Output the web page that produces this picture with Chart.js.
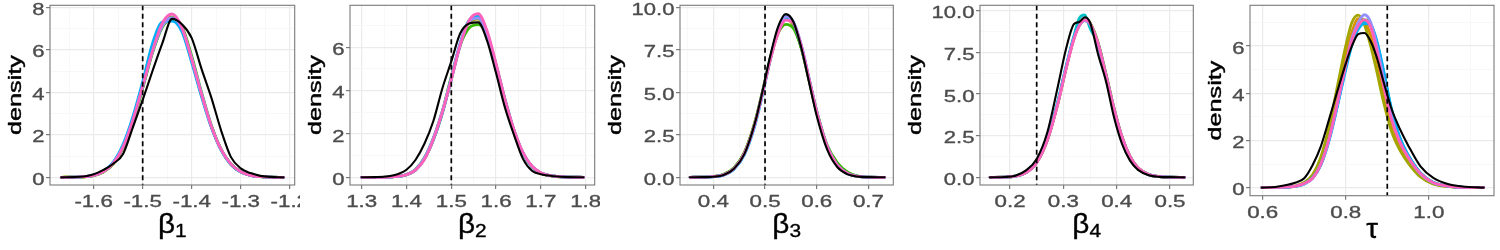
<!DOCTYPE html>
<html>
<head>
<meta charset="utf-8">
<script src="https://cdn.jsdelivr.net/npm/chart.js@4"></script>
<style>
  html, body { margin: 0; padding: 0; background: #fff; }
  #wrap { position: relative; width: 1500px; height: 250px; overflow: hidden; }
  .panel { position: absolute; top: 0; width: 300px; height: 250px; }
</style>
</head>
<body>
<div id="wrap"></div>
<script>
// --- chain colours (drawn bottom -> top), black reference curve on top ---
const chainColors = ['#D89000', '#A3A500', '#39B600', '#00BFC4', '#00B0F6', '#9590FF', '#FF62BC'];

// --- beta_1 ---
const b1X = [-1.666, -1.64, -1.62, -1.60, -1.58, -1.56, -1.54, -1.52, -1.50, -1.48, -1.46, -1.44, -1.42, -1.40, -1.38, -1.36, -1.34, -1.32, -1.30, -1.28, -1.26, -1.24, -1.213];
const b1Black = [0, 0.01, 0.04, 0.14, 0.35, 0.64, 1.1, 2.35, 3.64, 5.0, 6.3, 7.45, 7.2, 6.55, 5.1, 3.75, 2.2, 0.95, 0.42, 0.2, 0.07, 0.02, 0];
const b1Chains = [
  [0, 0.01, 0.02, 0.08, 0.26, 0.65, 1.42, 2.65, 4.25, 5.9, 7.1, 7.4, 6.95, 5.55, 3.9, 2.4, 1.3, 0.62, 0.26, 0.09, 0.03, 0.01, 0],
  [0, 0.01, 0.02, 0.08, 0.25, 0.63, 1.38, 2.6, 4.2, 5.9, 7.15, 7.55, 7.0, 5.6, 3.9, 2.4, 1.3, 0.6, 0.25, 0.09, 0.03, 0.01, 0],
  [0, 0.01, 0.02, 0.08, 0.26, 0.64, 1.4, 2.62, 4.2, 5.85, 7.05, 7.45, 7.1, 5.7, 4.0, 2.45, 1.32, 0.63, 0.27, 0.1, 0.03, 0.01, 0],
  [0, 0.01, 0.03, 0.09, 0.27, 0.66, 1.44, 2.7, 4.3, 6.0, 7.2, 7.5, 6.95, 5.5, 3.85, 2.38, 1.28, 0.6, 0.25, 0.09, 0.03, 0.01, 0],
  [0, 0.01, 0.03, 0.1, 0.3, 0.72, 1.55, 2.85, 4.5, 6.3, 7.3, 7.35, 6.85, 5.4, 3.8, 2.35, 1.28, 0.6, 0.25, 0.09, 0.03, 0.01, 0],
  [0, 0.01, 0.03, 0.09, 0.28, 0.68, 1.45, 2.7, 4.25, 5.9, 7.1, 7.5, 7.0, 5.6, 3.95, 2.42, 1.3, 0.62, 0.26, 0.09, 0.03, 0.01, 0],
  [0, 0.01, 0.03, 0.09, 0.27, 0.66, 1.42, 2.68, 4.3, 5.95, 7.25, 7.68, 7.05, 5.55, 3.9, 2.4, 1.3, 0.62, 0.26, 0.09, 0.03, 0.01, 0]
];
const b1XTicks = [-1.6, -1.5, -1.4, -1.3, -1.2];
const b1XLabels = ['-1.6', '-1.5', '-1.4', '-1.3', '-1.2'];
const b1XMinor = [-1.65, -1.55, -1.45, -1.35, -1.25];
const b1YTicks = [0, 2, 4, 6, 8];
const b1YLabels = ['0', '2', '4', '6', '8'];
const b1YMinor = [1, 3, 5, 7];

// --- beta_2 ---
const b2X = [1.30, 1.33, 1.36, 1.38, 1.40, 1.42, 1.44, 1.46, 1.48, 1.50, 1.52, 1.54, 1.56, 1.58, 1.60, 1.62, 1.64, 1.66, 1.68, 1.70, 1.73, 1.76, 1.795];
const b2Black = [0, 0.01, 0.05, 0.14, 0.35, 0.8, 1.55, 2.6, 4.1, 5.35, 6.65, 7.1, 7.15, 6.3, 4.8, 3.2, 1.95, 0.85, 0.3, 0.14, 0.05, 0.01, 0];
const b2Chains = [
  [0, 0, 0.01, 0.04, 0.12, 0.33, 0.85, 1.74, 2.98, 4.55, 6.15, 7.2, 7.35, 6.55, 5.1, 3.55, 2.12, 1.1, 0.49, 0.19, 0.05, 0.01, 0],
  [0, 0, 0.01, 0.04, 0.12, 0.34, 0.88, 1.78, 3.0, 4.6, 6.15, 7.15, 7.3, 6.5, 5.1, 3.5, 2.12, 1.1, 0.48, 0.19, 0.04, 0.01, 0],
  [0, 0, 0.01, 0.04, 0.13, 0.36, 0.9, 1.8, 3.05, 4.65, 6.1, 6.9, 7.05, 6.55, 5.15, 3.55, 2.15, 1.12, 0.5, 0.2, 0.05, 0.01, 0],
  [0, 0, 0.01, 0.04, 0.12, 0.33, 0.84, 1.72, 2.95, 4.5, 6.1, 7.25, 7.45, 6.65, 5.2, 3.6, 2.18, 1.13, 0.5, 0.2, 0.05, 0.01, 0],
  [0, 0, 0.01, 0.04, 0.12, 0.34, 0.86, 1.76, 3.0, 4.55, 6.2, 7.25, 7.4, 6.6, 5.15, 3.55, 2.15, 1.12, 0.5, 0.2, 0.05, 0.01, 0],
  [0, 0, 0.01, 0.04, 0.13, 0.35, 0.9, 1.82, 3.05, 4.6, 6.2, 7.2, 7.35, 6.6, 5.1, 3.5, 2.15, 1.13, 0.5, 0.2, 0.05, 0.01, 0],
  [0, 0, 0.01, 0.04, 0.12, 0.33, 0.82, 1.75, 3.0, 4.5, 6.1, 7.25, 7.55, 6.75, 5.25, 3.6, 2.2, 1.15, 0.52, 0.21, 0.05, 0.01, 0]
];
const b2XTicks = [1.3, 1.4, 1.5, 1.6, 1.7, 1.8];
const b2XLabels = ['1.3', '1.4', '1.5', '1.6', '1.7', '1.8'];
const b2XMinor = [1.35, 1.45, 1.55, 1.65, 1.75];
const b2YTicks = [0, 2, 4, 6];
const b2YLabels = ['0', '2', '4', '6'];
const b2YMinor = [1, 3, 5, 7];

// --- beta_3 ---
const b3X = [0.355, 0.38, 0.40, 0.42, 0.44, 0.46, 0.48, 0.495, 0.51, 0.525, 0.54, 0.555, 0.57, 0.585, 0.60, 0.62, 0.64, 0.66, 0.68, 0.70, 0.731];
const b3Black = [0, 0.01, 0.03, 0.13, 0.5, 1.36, 3.15, 5.05, 7.13, 8.83, 9.6, 9.14, 7.64, 5.61, 3.61, 1.64, 0.59, 0.17, 0.04, 0.01, 0];
const b3Chains = [
  [0, 0.01, 0.04, 0.15, 0.52, 1.42, 3.15, 4.95, 6.9, 8.5, 9.3, 8.95, 7.65, 5.75, 3.85, 1.85, 0.72, 0.22, 0.05, 0.01, 0],
  [0, 0.01, 0.04, 0.16, 0.55, 1.45, 3.2, 5.0, 6.95, 8.55, 9.3, 8.95, 7.6, 5.7, 3.8, 1.85, 0.75, 0.24, 0.06, 0.01, 0],
  [0, 0.01, 0.05, 0.17, 0.56, 1.45, 3.2, 5.05, 7.0, 8.45, 9.0, 8.75, 7.6, 5.8, 3.9, 1.9, 0.85, 0.3, 0.07, 0.01, 0],
  [0, 0.01, 0.04, 0.14, 0.5, 1.38, 3.1, 4.95, 6.95, 8.6, 9.4, 9.05, 7.7, 5.75, 3.8, 1.82, 0.7, 0.22, 0.05, 0.01, 0],
  [0, 0.01, 0.03, 0.13, 0.47, 1.32, 3.0, 4.85, 6.9, 8.6, 9.45, 9.1, 7.75, 5.8, 3.85, 1.83, 0.7, 0.21, 0.05, 0.01, 0],
  [0, 0.01, 0.04, 0.14, 0.5, 1.38, 3.1, 4.95, 6.95, 8.6, 9.45, 9.15, 7.8, 5.85, 3.85, 1.82, 0.7, 0.21, 0.05, 0.01, 0],
  [0, 0.01, 0.04, 0.15, 0.52, 1.4, 3.12, 4.95, 6.9, 8.45, 9.25, 9.05, 7.75, 5.8, 3.85, 1.84, 0.71, 0.22, 0.05, 0.01, 0]
];
const b3XTicks = [0.4, 0.5, 0.6, 0.7];
const b3XLabels = ['0.4', '0.5', '0.6', '0.7'];
const b3XMinor = [0.35, 0.45, 0.55, 0.65];
const b3YTicks = [0, 2.5, 5, 7.5, 10];
const b3YLabels = ['0.0', '2.5', '5.0', '7.5', '10.0'];
const b3YMinor = [1.25, 3.75, 6.25, 8.75];

// --- beta_4 ---
const b4X = [0.1625, 0.19, 0.21, 0.23, 0.25, 0.27, 0.29, 0.305, 0.32, 0.33, 0.34, 0.35, 0.365, 0.38, 0.395, 0.41, 0.425, 0.44, 0.46, 0.48, 0.50, 0.527];
const b4Black = [0, 0.02, 0.1, 0.42, 1.1, 2.7, 5.5, 7.7, 9.2, 9.32, 9.6, 9.3, 7.4, 5.75, 3.6, 2.0, 1.0, 0.45, 0.13, 0.03, 0.01, 0];
const b4Chains = [
  [0, 0.01, 0.07, 0.28, 0.88, 2.22, 4.45, 6.5, 8.35, 9.15, 9.45, 9.25, 8.05, 6.15, 4.12, 2.42, 1.25, 0.57, 0.17, 0.04, 0.01, 0],
  [0, 0.01, 0.07, 0.28, 0.89, 2.24, 4.5, 6.55, 8.4, 9.2, 9.5, 9.25, 8.0, 6.1, 4.1, 2.42, 1.26, 0.58, 0.17, 0.04, 0.01, 0],
  [0, 0.01, 0.07, 0.29, 0.9, 2.26, 4.5, 6.55, 8.35, 9.1, 9.4, 9.25, 8.1, 6.2, 4.15, 2.42, 1.25, 0.56, 0.16, 0.04, 0.01, 0],
  [0, 0.01, 0.08, 0.31, 0.95, 2.35, 4.62, 6.65, 8.5, 9.55, 9.75, 8.95, 8.0, 6.1, 4.05, 2.38, 1.23, 0.56, 0.16, 0.04, 0.01, 0],
  [0, 0.01, 0.07, 0.29, 0.9, 2.28, 4.55, 6.6, 8.4, 9.15, 9.45, 9.2, 7.95, 6.05, 4.05, 2.38, 1.23, 0.55, 0.16, 0.04, 0.01, 0],
  [0, 0.01, 0.07, 0.28, 0.89, 2.25, 4.5, 6.55, 8.35, 9.1, 9.4, 9.2, 8.0, 6.1, 4.1, 2.4, 1.24, 0.56, 0.16, 0.04, 0.01, 0],
  [0, 0.01, 0.07, 0.28, 0.88, 2.22, 4.45, 6.5, 8.3, 9.1, 9.45, 9.25, 8.05, 6.15, 4.12, 2.42, 1.26, 0.58, 0.17, 0.04, 0.01, 0]
];
const b4XTicks = [0.2, 0.3, 0.4, 0.5];
const b4XLabels = ['0.2', '0.3', '0.4', '0.5'];
const b4XMinor = [0.15, 0.25, 0.35, 0.45];
const b4YTicks = [0, 2.5, 5, 7.5, 10];
const b4YLabels = ['0.0', '2.5', '5.0', '7.5', '10.0'];
const b4YMinor = [1.25, 3.75, 6.25, 8.75];

// --- tau ---
const tauX = [0.598, 0.63, 0.66, 0.68, 0.70, 0.72, 0.74, 0.76, 0.78, 0.80, 0.815, 0.83, 0.845, 0.86, 0.875, 0.89, 0.91, 0.93, 0.95, 0.98, 1.01, 1.05, 1.09, 1.132];
const tauBlack = [0, 0.03, 0.12, 0.22, 0.4, 0.95, 1.75, 2.9, 4.1, 5.25, 6.0, 6.5, 6.55, 6.2, 5.5, 4.55, 3.35, 2.5, 1.8, 0.9, 0.42, 0.13, 0.04, 0];
const tauChains = [
  [0, 0.01, 0.03, 0.07, 0.2, 0.5, 1.2, 2.45, 4.0, 5.6, 6.6, 7.15, 7.05, 6.45, 5.4, 4.1, 2.65, 1.75, 1.15, 0.5, 0.18, 0.05, 0.01, 0],
  [0, 0.01, 0.03, 0.08, 0.22, 0.55, 1.3, 2.6, 4.3, 6.0, 7.0, 7.3, 6.9, 6.0, 4.9, 3.7, 2.4, 1.6, 1.05, 0.45, 0.16, 0.04, 0.01, 0],
  [0, 0.01, 0.02, 0.06, 0.17, 0.42, 1.0, 2.1, 3.55, 5.15, 6.2, 6.85, 7.1, 6.9, 6.1, 4.9, 3.2, 2.05, 1.35, 0.6, 0.22, 0.06, 0.01, 0],
  [0, 0.01, 0.02, 0.06, 0.17, 0.42, 1.0, 2.05, 3.5, 5.1, 6.15, 6.8, 7.0, 6.85, 6.15, 5.0, 3.3, 2.1, 1.38, 0.62, 0.23, 0.06, 0.01, 0],
  [0, 0.01, 0.02, 0.06, 0.16, 0.4, 0.95, 2.0, 3.45, 5.0, 6.05, 6.7, 6.95, 6.9, 6.2, 5.05, 3.35, 2.15, 1.4, 0.62, 0.23, 0.06, 0.01, 0],
  [0, 0.01, 0.02, 0.06, 0.17, 0.4, 0.98, 2.05, 3.55, 5.2, 6.35, 7.0, 7.32, 7.0, 6.0, 4.7, 3.0, 1.95, 1.3, 0.58, 0.21, 0.06, 0.01, 0],
  [0, 0.01, 0.03, 0.07, 0.18, 0.4, 1.0, 2.1, 3.6, 5.2, 6.25, 6.85, 7.1, 6.8, 5.8, 4.4, 2.9, 1.95, 1.3, 0.6, 0.22, 0.06, 0.01, 0]
];
const tauXTicks = [0.6, 0.8, 1.0];
const tauXLabels = ['0.6', '0.8', '1.0'];
const tauXMinor = [0.7, 0.9, 1.1];
const tauYTicks = [0, 2, 4, 6];
const tauYLabels = ['0', '2', '4', '6'];
const tauYMinor = [1, 3, 5, 7];

// true parameter values (dashed lines)
const trueValues = [-1.5, 1.5, 0.5, 0.25, 0.9];
const axisSymbols = ['β', 'β', 'β', 'β', 'τ'];
const axisSubscripts = ['1', '2', '3', '4', ''];

// --- panel geometry (plot box inside each 300px panel) ---
const panelBoxes = [
    { L: 50, R: 294.7, T: 5.3, B: 185, xMin: -1.689, xMax: -1.190, yMin: -0.36, yMax: 8.09 },
    { L: 50, R: 294.7, T: 5.3, B: 185, xMin: 1.2739, xMax: 1.8201, yMin: -0.355, yMax: 7.94 },
    { L: 80, R: 293.3, T: 5.3, B: 185, xMin: 0.3356, xMax: 0.748, yMin: -0.453, yMax: 10.12 },
    { L: 80, R: 293.3, T: 5.3, B: 185, xMin: 0.1437, xMax: 0.5437, yMin: -0.46, yMax: 10.32 },
    { L: 50, R: 294, T: 5.3, B: 195.7, xMin: 0.5694, xMax: 1.157, yMin: -0.34, yMax: 7.72 }
];

const panels = [
    { xs: b1X, black: b1Black, chains: b1Chains, xT: b1XTicks, xL: b1XLabels, xM: b1XMinor, yT: b1YTicks, yL: b1YLabels, yM: b1YMinor },
    { xs: b2X, black: b2Black, chains: b2Chains, xT: b2XTicks, xL: b2XLabels, xM: b2XMinor, yT: b2YTicks, yL: b2YLabels, yM: b2YMinor },
    { xs: b3X, black: b3Black, chains: b3Chains, xT: b3XTicks, xL: b3XLabels, xM: b3XMinor, yT: b3YTicks, yL: b3YLabels, yM: b3YMinor },
    { xs: b4X, black: b4Black, chains: b4Chains, xT: b4XTicks, xL: b4XLabels, xM: b4XMinor, yT: b4YTicks, yL: b4YLabels, yM: b4YMinor },
    { xs: tauX, black: tauBlack, chains: tauChains, xT: tauXTicks, xL: tauXLabels, xM: tauXMinor, yT: tauYTicks, yL: tauYLabels, yM: tauYMinor }
];

const FONT = '"Liberation Sans", Arial, Helvetica, sans-serif';
const MAJOR_GRID = '#EBEBEB';
const MINOR_GRID = '#F5F5F5';
const FRAME = '#7a7a7a';
const TICK_TEXT = '#4D4D4D';

// canvas text, widened along its reading direction like the reference
function drawText(ctx, str, x, y, size, align, sx, rotate, color, weight) {
    ctx.save();
    ctx.translate(x, y);
    if (rotate) ctx.rotate(-Math.PI / 2);
    ctx.scale(sx, 1);
    ctx.font = size + 'px ' + FONT;
    ctx.fillStyle = color;
    ctx.strokeStyle = color;
    ctx.lineWidth = weight || 0;
    ctx.lineJoin = 'round';
    ctx.textAlign = align;
    ctx.textBaseline = 'alphabetic';
    ctx.fillText(str, 0, 0);
    if (weight) ctx.strokeText(str, 0, 0);
    ctx.restore();
}

function panelPlugin(i) {
    const p = panels[i];
    const box = panelBoxes[i];
    return {
        id: 'panelDecor' + i,
        afterDatasetsDraw(chart) {
            const { ctx, chartArea, scales } = chart;
            const px = scales.x.getPixelForValue(trueValues[i]);
            ctx.save();
            ctx.strokeStyle = '#000';
            ctx.lineWidth = 1.7;
            ctx.setLineDash([5, 3.5]);
            ctx.beginPath();
            ctx.moveTo(px, chartArea.top);
            ctx.lineTo(px, chartArea.bottom);
            ctx.stroke();
            ctx.restore();
        },
        afterDraw(chart) {
            const { ctx, chartArea, scales } = chart;
            // panel frame
            ctx.save();
            ctx.strokeStyle = FRAME;
            ctx.lineWidth = 1.1;
            ctx.strokeRect(chartArea.left, chartArea.top, chartArea.right - chartArea.left, chartArea.bottom - chartArea.top);
            ctx.restore();

            // tick labels
            p.xT.forEach((v, k) => {
                drawText(ctx, p.xL[k], scales.x.getPixelForValue(v), box.B + 22.2, 16.2, 'center', 1.38, false, TICK_TEXT, 0.35);
            });
            p.yT.forEach((v, k) => {
                drawText(ctx, p.yL[k], box.L - 5.6, scales.y.getPixelForValue(v) + 7.6, 16.2, 'right', 1.36, false, TICK_TEXT, 0.35);
            });

            // axis titles
            drawText(ctx, 'density', 21.2, (chartArea.top + chartArea.bottom) / 2, 18, 'center', 1.4, true, '#000', 0.4);
            const cx = (chartArea.left + chartArea.right) / 2;
            const sym = axisSymbols[i], sub = axisSubscripts[i];
            ctx.save();
            ctx.font = '27px ' + FONT;
            const w1 = ctx.measureText(sym).width * 1.1;
            ctx.font = '19px ' + FONT;
            const w2 = sub ? ctx.measureText(sub).width * 1.1 : 0;
            ctx.restore();
            const x0 = cx - (w1 + w2) / 2;
            if (sub) {
                drawText(ctx, sym, x0, 233, 27, 'left', 1.1, false, '#000', 0.35);
                drawText(ctx, sub, x0 + w1, 237, 19, 'left', 1.1, false, '#000', 0.35);
            } else {
                drawText(ctx, sym, x0, 238, 27, 'left', 1.1, false, '#000', 0.35);
            }
        }
    };
}

function buildChart(i) {
    const p = panels[i];
    const box = panelBoxes[i];
    const wrap = document.getElementById('wrap');
    const canvas = document.createElement('canvas');
    canvas.className = 'panel';
    canvas.width = 300;
    canvas.height = 250;
    canvas.style.left = (i * 300) + 'px';
    wrap.appendChild(canvas);

    const xAll = p.xT.concat(p.xM).filter(v => v >= box.xMin && v <= box.xMax).sort((a, b) => a - b);
    const yAll = p.yT.concat(p.yM).filter(v => v >= box.yMin && v <= box.yMax).sort((a, b) => a - b);
    const isMajorX = v => p.xT.some(t => Math.abs(t - v) < 1e-9);
    const isMajorY = v => p.yT.some(t => Math.abs(t - v) < 1e-9);

    const datasets = [];
    p.chains.forEach((ys, k) => {
        datasets.push({
            data: p.xs.map((x, j) => ({ x: x, y: ys[j] })),
            borderColor: chainColors[k],
            borderWidth: 2.8,
            order: p.chains.length - k
        });
    });
    datasets.push({
        data: p.xs.map((x, j) => ({ x: x, y: p.black[j] })),
        borderColor: '#000',
        borderWidth: 2.1,
        order: 0
    });

    new Chart(canvas, {
        type: 'line',
        data: { datasets: datasets },
        options: {
            responsive: false,
            animation: false,
            events: [],
            layout: { padding: { left: 0, top: box.T, right: 300 - box.R, bottom: 0 } },
            elements: {
                point: { radius: 0 },
                line: { cubicInterpolationMode: 'monotone', fill: false, borderCapStyle: 'round', borderJoinStyle: 'round' }
            },
            plugins: { legend: { display: false }, tooltip: { enabled: false } },
            scales: {
                x: {
                    type: 'linear',
                    min: box.xMin,
                    max: box.xMax,
                    afterBuildTicks: s => { s.ticks = xAll.map(v => ({ value: v })); },
                    afterFit: s => { s.height = 250 - box.B; s.paddingLeft = 0; s.paddingRight = 0; },
                    ticks: { display: false },
                    grid: {
                        color: c => isMajorX(c.tick.value) ? MAJOR_GRID : MINOR_GRID,
                        lineWidth: c => isMajorX(c.tick.value) ? 1.2 : 0.7,
                        tickColor: c => isMajorX(c.tick.value) ? FRAME : 'rgba(0,0,0,0)',
                        tickLength: 4
                    },
                    border: { display: false }
                },
                y: {
                    type: 'linear',
                    min: box.yMin,
                    max: box.yMax,
                    afterBuildTicks: s => { s.ticks = yAll.map(v => ({ value: v })); },
                    afterFit: s => { s.width = box.L; s.paddingTop = 0; s.paddingBottom = 0; },
                    ticks: { display: false },
                    grid: {
                        color: c => isMajorY(c.tick.value) ? MAJOR_GRID : MINOR_GRID,
                        lineWidth: c => isMajorY(c.tick.value) ? 1.2 : 0.7,
                        tickColor: c => isMajorY(c.tick.value) ? FRAME : 'rgba(0,0,0,0)',
                        tickLength: 4
                    },
                    border: { display: false }
                }
            }
        },
        plugins: [panelPlugin(i)]
    });
}

panels.forEach((p, i) => buildChart(i));
</script>
</body>
</html>
